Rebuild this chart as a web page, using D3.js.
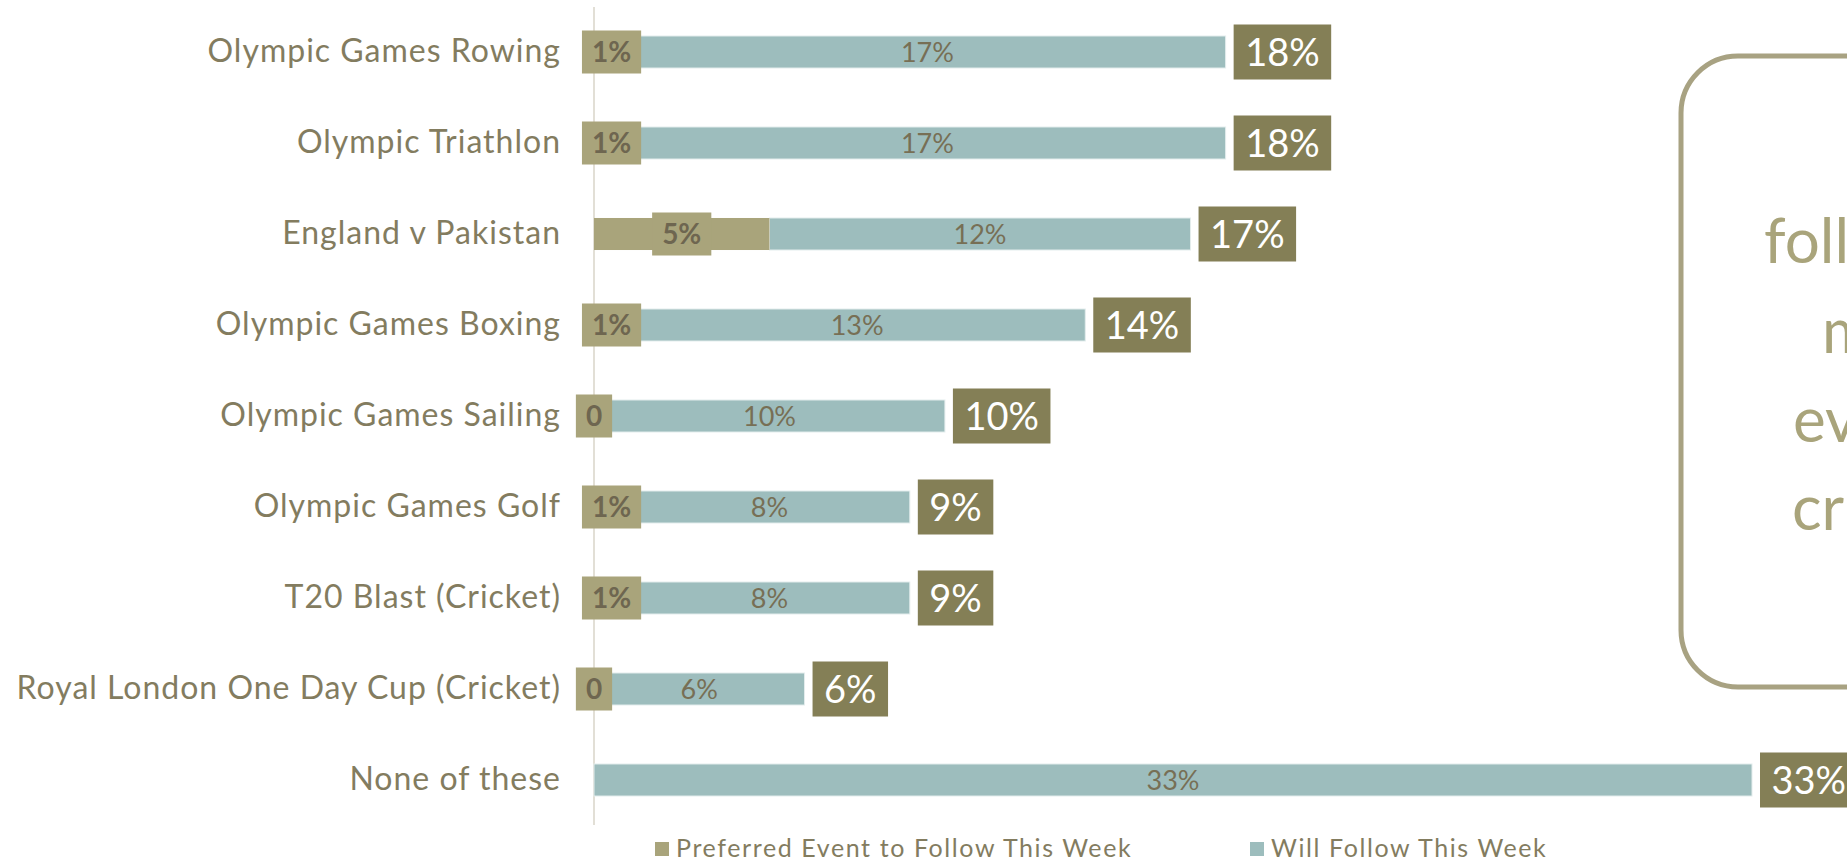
<!DOCTYPE html>
<html>
<head>
<meta charset="utf-8">
<script src="https://cdn.jsdelivr.net/npm/d3@7"></script>
<style>
  html, body { margin: 0; padding: 0; background: #fff; overflow: hidden; }
  text { font-family: Lato, "Open Sans", sans-serif; }
</style>
</head>
<body>
<div id="chart"></div>
<script>
// data
var categories = ["Olympic Games Rowing", "Olympic Triathlon", "England v Pakistan",
    "Olympic Games Boxing", "Olympic Games Sailing", "Olympic Games Golf",
    "T20 Blast (Cricket)", "Royal London One Day Cup (Cricket)", "None of these"];
var preferred = [1, 1, 5, 1, 0, 1, 1, 0, null];
var willFollow = [17, 17, 12, 13, 10, 8, 8, 6, 33];
var seriesNames = ["Preferred Event to Follow This Week", "Will Follow This Week"];
var calloutLines = ["follow", "most", "events", "cricket"];

var width = 1847, height = 866;
var colPref = "#a9a47b", colFollow = "#9dbdbd", colTotal = "#847f56",
    colText = "#837c5f", colLabel = "#776f55";

function translate(x, y){ return "translate(" + x + "," + y + ")"; }
function pct(v){ return v === 0 ? "0" : v + "%"; }

var rows = categories.map(function(c, i){
    var p = preferred[i] || 0;
    return { cat: c, pref: preferred[i], follow: willFollow[i], total: p + willFollow[i] };
});

var x0 = 594;
var xScale = d3.scaleLinear().domain([0, 33]).range([x0, 1752]);
var yScale = d3.scaleBand().domain(categories)
    .range([6.5, 825.5]).paddingInner(0.648).paddingOuter(0.324);

var svg = d3.select("#chart").append("svg")
    .attr("width", width).attr("height", height);

// vertical axis line
svg.append("line")
    .attr("x1", x0).attr("x2", x0).attr("y1", 7).attr("y2", 825)
    .attr("stroke", "#e2dfd6").attr("stroke-width", 2);

// category labels
var yAxis = d3.axisLeft(yScale).tickSize(0).tickPadding(33);
var gy = svg.append("g").attr("transform", translate(x0, 0)).call(yAxis);
gy.select(".domain").remove();
gy.selectAll("text")
    .style("font-family", "Lato, sans-serif")
    .style("font-size", "32px")
    .style("letter-spacing", "1px")
    .attr("fill", colText);

var bw = yScale.bandwidth();

// will follow bars
svg.selectAll(".follow").data(rows).enter().append("rect")
    .attr("class", "follow")
    .attr("x", function(d){ return xScale(d.pref || 0); })
    .attr("y", function(d){ return yScale(d.cat); })
    .attr("width", function(d){ return xScale(d.total) - xScale(d.pref || 0); })
    .attr("height", bw)
    .attr("fill", colFollow)
    .attr("stroke", "#e4eded").attr("stroke-width", 1);

// preferred bars
svg.selectAll(".pref").data(rows.filter(function(d){ return d.pref > 0; })).enter().append("rect")
    .attr("class", "pref")
    .attr("x", xScale(0))
    .attr("y", function(d){ return yScale(d.cat); })
    .attr("width", function(d){ return xScale(d.pref) - xScale(0); })
    .attr("height", bw)
    .attr("fill", colPref);

// will follow labels
svg.selectAll(".followLbl").data(rows).enter().append("text")
    .attr("x", function(d){ return (xScale(d.pref || 0) + xScale(d.total)) / 2; })
    .attr("y", function(d){ return yScale(d.cat) + bw / 2; })
    .attr("dy", "0.36em")
    .attr("text-anchor", "middle")
    .style("font-size", "27px")
    .attr("fill", colLabel)
    .text(function(d){ return d.follow + "%"; });

// preferred labels with box
var pl = svg.selectAll(".prefLbl").data(rows.filter(function(d){ return d.pref != null; }))
    .enter().append("g")
    .attr("transform", function(d){
        return translate((xScale(0) + xScale(d.pref)) / 2, yScale(d.cat) + bw / 2);
    });
pl.append("rect").attr("fill", colPref);
pl.append("text")
    .attr("text-anchor", "middle").attr("dy", "0.36em")
    .style("font-size", "28px").style("font-weight", "bold")
    .attr("fill", "#6e6650")
    .text(function(d){ return pct(d.pref); });
pl.each(function(){
    var g = d3.select(this);
    var w = g.select("text").node().getComputedTextLength() + 20;
    g.select("rect").attr("x", -w / 2).attr("y", -21.5).attr("width", w).attr("height", 43);
});

// total labels
var tl = svg.selectAll(".totLbl").data(rows).enter().append("g")
    .attr("transform", function(d){ return translate(xScale(d.total) + 8, yScale(d.cat) + bw / 2); });
tl.append("rect").attr("fill", colTotal);
tl.append("text")
    .attr("dy", "0.36em")
    .style("font-size", "38px")
    .attr("fill", "#fff")
    .text(function(d){ return d.total + "%"; });
tl.each(function(){
    var g = d3.select(this);
    var w = g.select("text").node().getComputedTextLength();
    g.select("text").attr("x", 11.5);
    g.select("rect").attr("x", 0).attr("y", -27.5).attr("width", w + 23).attr("height", 55);
});

// legend
var legend = svg.append("g");
var legendX = [655, 1250];
seriesNames.forEach(function(name, i){
    legend.append("rect")
        .attr("x", legendX[i]).attr("y", 842).attr("width", 14).attr("height", 14)
        .attr("fill", i === 0 ? colPref : colFollow);
    legend.append("text")
        .attr("x", legendX[i] + 21).attr("y", 857)
        .style("font-size", "25px").style("letter-spacing", "1.6px")
        .attr("fill", colText)
        .text(name);
});

// callout box (runs off the right edge)
svg.append("rect")
    .attr("x", 1681).attr("y", 56).attr("width", 400).attr("height", 631)
    .attr("rx", 57).attr("ry", 57)
    .attr("fill", "none").attr("stroke", "#a8a282").attr("stroke-width", 5);

var calloutX = [1764, 1822, 1793, 1792];
var calloutY = [263, 353, 442, 530];
calloutLines.forEach(function(t, i){
    svg.append("text")
        .attr("x", calloutX[i]).attr("y", calloutY[i])
        .style("font-size", "62px")
        .attr("fill", "#a9a47b")
        .text(t);
});
</script>
</body>
</html>
